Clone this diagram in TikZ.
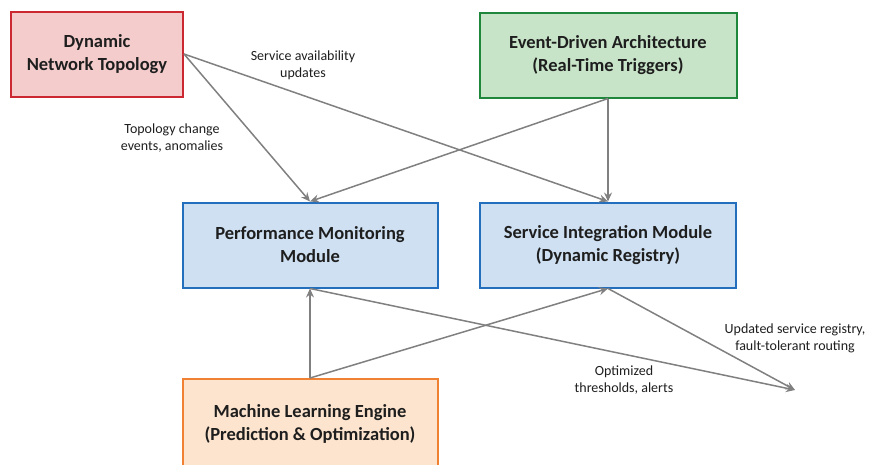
\documentclass[tikz,border=0pt]{standalone}
\usepackage{fontspec}
\setmainfont{Carlito}
\usetikzlibrary{arrows.meta,shadows}

\definecolor{redfill}{RGB}{244,204,204}
\definecolor{redline}{RGB}{204,40,50}
\definecolor{greenfill}{RGB}{200,228,200}
\definecolor{greenline}{RGB}{30,135,60}
\definecolor{bluefill}{RGB}{206,224,242}
\definecolor{blueline}{RGB}{36,110,190}
\definecolor{orangefill}{RGB}{252,228,206}
\definecolor{orangeline}{RGB}{240,128,50}
\definecolor{arrowgray}{RGB}{128,128,128}
\definecolor{inktext}{RGB}{30,30,30}

\tikzset{
  box/.style={draw, line width=2pt, minimum width=#1, minimum height=85pt,
    align=center, text=inktext, font=\fontsize{18.5}{23}\selectfont\bfseries,
    drop shadow={shadow xshift=1.2pt, shadow yshift=-1.2pt, opacity=0.25}},
  flow/.style={draw=arrowgray, line width=1.5pt,
    -{Stealth[length=9pt, width=8pt, inset=3pt]}},
  lbl/.style={align=center, font=\fontsize{14}{17}\selectfont, text=inktext}
}

\begin{document}
\begin{tikzpicture}[x=1pt, y=-1pt]
  \useasboundingbox (0,0) rectangle (869,464);
  \clip (0,0) rectangle (869,464);

  % component boxes
  \node[box=172pt, fill=redfill, draw=redline] (dnt) at (97,54)
    {Dynamic\\Network Topology};
  \node[box=257pt, fill=greenfill, draw=greenline] (eda) at (608,55)
    {Event-Driven Architecture\\(Real-Time Triggers)};
  \node[box=255pt, fill=bluefill, draw=blueline] (pmm) at (310,245)
    {Performance Monitoring\\Module};
  \node[box=256pt, fill=bluefill, draw=blueline] (sim) at (608,245)
    {Service Integration Module\\(Dynamic Registry)};
  \node[box=255pt, minimum height=90pt, fill=orangefill, draw=orangeline] (mle) at (310,424)
    {Machine Learning Engine\\(Prediction \& Optimization)};

  % free end of the output arrows
  \coordinate (out) at (795,390);

  % connectors
  \draw[flow] (dnt.east) -- (pmm.north);
  \draw[flow] (dnt.east) -- (sim.north);
  \draw[flow] (eda.south) -- (pmm.north);
  \draw[flow] (eda.south) -- (sim.north);
  \draw[flow] (mle.north) -- (pmm.south);
  \draw[flow] (mle.north) -- (sim.south);
  \draw[flow] (pmm.south) -- (out);
  \draw[flow] (sim.south) -- (out);

  % connector labels
  \node[lbl] (l1) at (303,65) {Service availability\\updates};
  \node[lbl] (l2) at (172,138) {Topology change\\events, anomalies};
  \node[lbl] (l3) at (795,338) {Updated service registry,\\fault-tolerant routing};
  \node[lbl] (l4) at (624,380) {Optimized\\thresholds, alerts};
\end{tikzpicture}
\end{document}
